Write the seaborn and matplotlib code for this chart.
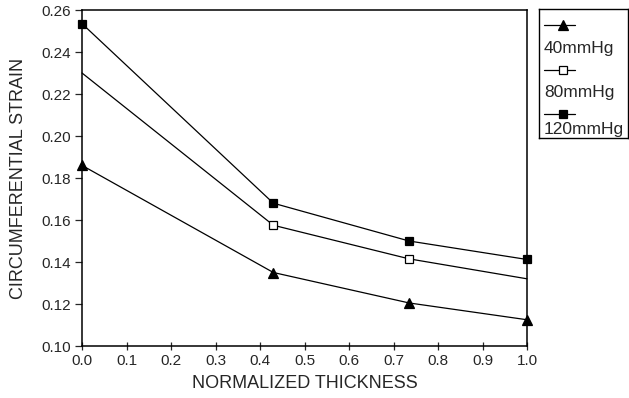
import matplotlib
matplotlib.use('Agg')
import matplotlib.pyplot as plt
import seaborn as sns

# values
thickness = [0.0, 0.43, 0.735, 1.0]
strain_40 = [0.186, 0.135, 0.1205, 0.1125]
strain_80 = [0.230, 0.1575, 0.1415, 0.132]
strain_120 = [0.2535, 0.168, 0.150, 0.1412]
series_labels = ['40mmHg', '80mmHg', '120mmHg']
x_ticks = [0.0, 0.1, 0.2, 0.3, 0.4, 0.5, 0.6, 0.7, 0.8, 0.9, 1.0]
y_ticks = [0.10, 0.12, 0.14, 0.16, 0.18, 0.20, 0.22, 0.24, 0.26]

sns.set_style('ticks')
plt.rcParams['font.family'] = ['Liberation Sans', 'DejaVu Sans']
plt.rcParams['font.size'] = 11

W, H = 629, 398
fig = plt.figure(figsize=(W / 100, H / 100), dpi=100)
ax = fig.add_axes([82 / W, (H - 346) / H, 445 / W, 336 / H])

styles = [
    dict(marker='^', markersize=7.5, markerfacecolor='black', markevery=None),
    dict(marker='s', markersize=6, markerfacecolor='white', markevery=[1, 2]),
    dict(marker='s', markersize=6, markerfacecolor='black', markevery=None),
]
for vals, st in zip([strain_40, strain_80, strain_120], styles):
    kw = dict(st)
    if kw['markevery'] is None:
        kw.pop('markevery')
    sns.lineplot(x=thickness, y=vals, ax=ax, color='black', linewidth=0.9,
                 markeredgecolor='black', markeredgewidth=0.9, clip_on=False, **kw)

ax.set_xlim(0, 1.0)
ax.set_ylim(0.10, 0.26)
ax.set_xticks(x_ticks)
ax.set_yticks(y_ticks)
ax.set_xticklabels([f'{t:.1f}' for t in x_ticks])
ax.set_yticklabels([f'{t:.2f}' for t in y_ticks])
ax.tick_params(axis='x', direction='inout', length=6, width=0.9, pad=3, labelsize=11)
ax.tick_params(axis='y', direction='out', length=5, width=0.9, pad=3, labelsize=11)
for s in ax.spines.values():
    s.set_linewidth(1.1)
    s.set_color('black')
ax.set_xlabel('NORMALIZED THICKNESS', fontsize=13, labelpad=5)
ax.set_ylabel('CIRCUMFERENTIAL STRAIN', fontsize=13, labelpad=10)

# legend box: handle on one row, label on the row below
lax = fig.add_axes([539 / W, (H - 138) / H, 89 / W, 129 / H])
lax.set_xlim(0, 89)
lax.set_ylim(129, 0)
lax.set_xticks([])
lax.set_yticks([])
for s in lax.spines.values():
    s.set_linewidth(1.0)
    s.set_color('black')
handle_rows = [16, 61, 105]
text_rows = [44, 88, 125]
for st, hy, ty, lab in zip(styles, handle_rows, text_rows, series_labels):
    lax.plot([5, 36], [hy, hy], color='black', linewidth=0.9)
    lax.plot([24], [hy], color='black', marker=st['marker'], markersize=st['markersize'],
             markerfacecolor=st['markerfacecolor'], markeredgecolor='black', markeredgewidth=0.9)
    lax.text(5, ty, lab, fontsize=12.5, va='baseline', ha='left')

fig.savefig('out.png', dpi=100)
